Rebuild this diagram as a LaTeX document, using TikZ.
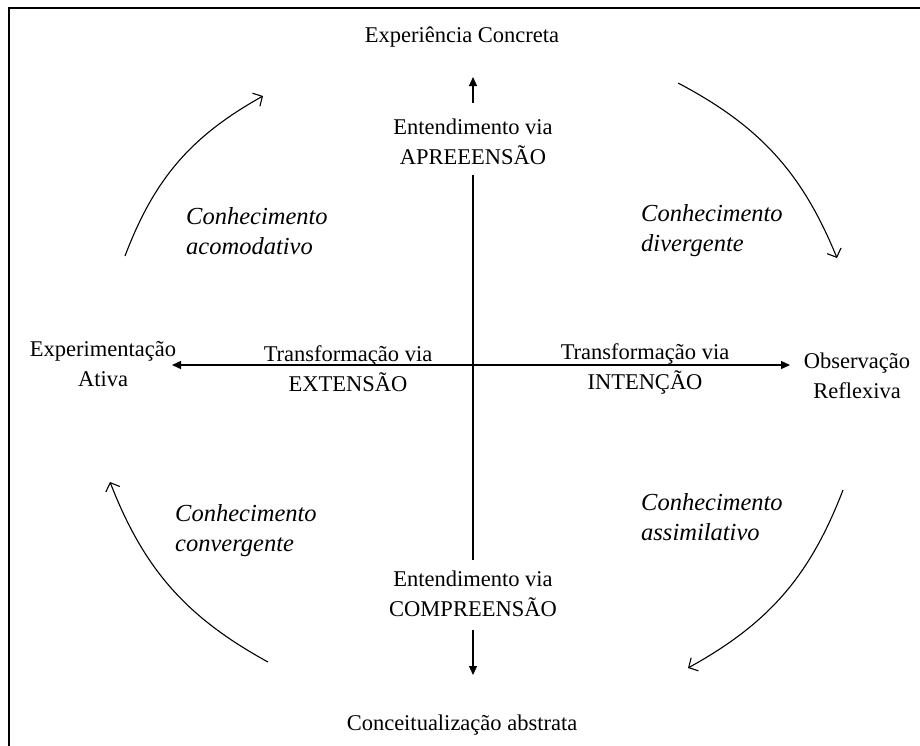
\documentclass[tikz,border=0pt]{standalone}
\usepackage{fontspec}
\setmainfont{Liberation Serif}
\usetikzlibrary{arrows.meta}
\begin{document}
\begin{tikzpicture}[x=1pt,y=-1pt,
  lbl/.style={font=\fontsize{22.5}{30}\selectfont, align=center, inner sep=0pt},
  ital/.style={font=\fontsize{24.5}{30}\selectfont\itshape, align=left, inner sep=0pt, anchor=west},
  axis/.style={line width=1.3pt, -{Triangle[length=9pt,width=8pt]}},
  cyc/.style={line width=1.1pt, -{Straight Barb[length=7pt,width=15pt]}, bend left=20}]
\clip (0,0) rectangle (920,745);
\fill[white] (0,0) rectangle (920,745);
% outer frame (runs past the page on the right and bottom)
\draw[line width=2.8pt] (9,770) |- (940,8);

% pole labels
\node[lbl] (ec) at (462,37) {Experiência Concreta};
\node[lbl] (ca) at (462,725) {Conceitualização abstrata};
\node[lbl] (exa) at (103,364) {Experimentação\\Ativa};
\node[lbl] (obr) at (857,376) {Observação\\Reflexiva};

% axis labels
\node[lbl] (apr) at (473,142) {Entendimento via\\APREEENSÃO};
\node[lbl] (cmp) at (473,594) {Entendimento via\\COMPREENSÃO};
\node[lbl] (ext) at (348,369) {Transformação via\\EXTENSÃO};
\node[lbl] (int) at (645,369) {Transformação via\\INTENÇÃO};

% knowledge types
\node[ital] (k1) at (186,231) {Conhecimento\\acomodativo};
\node[ital] (k2) at (641,231) {Conhecimento\\divergente};
\node[ital] (k3) at (175,531) {Conhecimento\\convergente};
\node[ital] (k4) at (641,517) {Conhecimento\\assimilativo};

% axis end points
\coordinate (o) at (473,365);
\coordinate (upt) at (473,103);
\coordinate (uph) at (473,77);
\coordinate (vt) at (473,175);
\coordinate (vb) at (473,560);
\coordinate (dnt) at (473,630);
\coordinate (dnh) at (473,675);
\coordinate (wt) at (172,365);
\coordinate (et) at (790,365);

\draw[axis] (upt) -- (uph);
\draw[line width=1.3pt] (vt) -- (vb);
\draw[axis] (dnt) -- (dnh);
\draw[axis] (o) -- (wt);
\draw[axis] (o) -- (et);

% cycle arrows
\coordinate (a1s) at (125,256); \coordinate (a1e) at (263,96);
\coordinate (a2s) at (678,83);  \coordinate (a2e) at (837,258);
\coordinate (a3s) at (843,490); \coordinate (a3e) at (688,668);
\coordinate (a4s) at (268,662); \coordinate (a4e) at (110,482);
\draw[cyc] (a1s) to (a1e);
\draw[cyc] (a2s) to (a2e);
\draw[cyc] (a3s) to (a3e);
\draw[cyc] (a4s) to (a4e);
\end{tikzpicture}
\end{document}
